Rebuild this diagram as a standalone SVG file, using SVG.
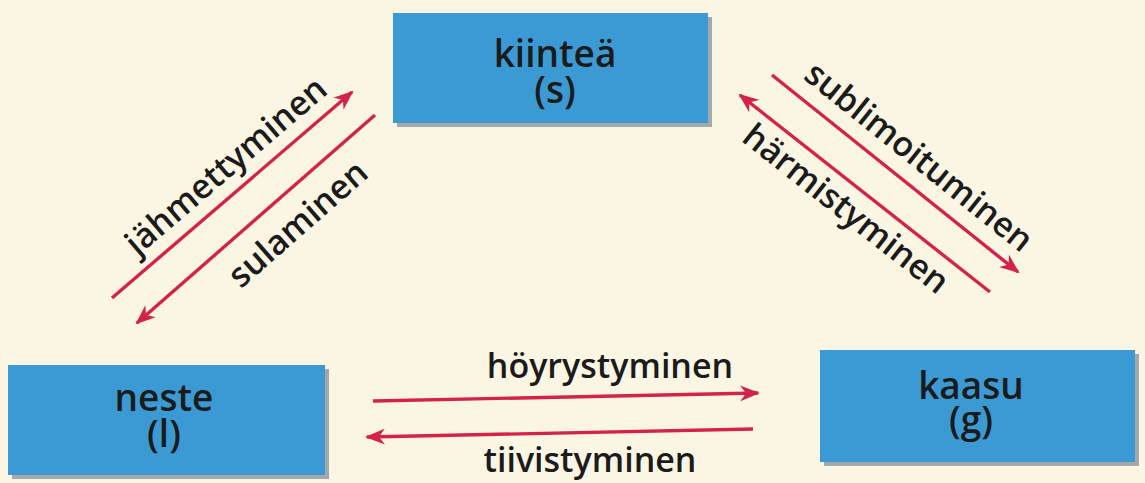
<svg xmlns="http://www.w3.org/2000/svg" width="1145" height="483" viewBox="0 0 1145 483">
<style>
.box{fill:#3b9ad4;}
.shadow{fill:#a3a9ab;}
.nt{font-family:"Open Sans","Liberation Sans",sans-serif;font-size:37px;font-weight:600;fill:#1b1b1b;text-anchor:middle;}
.lbl{font-family:"Open Sans","Liberation Sans",sans-serif;font-size:34px;font-weight:600;fill:#1b1b1b;text-anchor:middle;}
.arr{stroke:#d3234d;stroke-width:3.4;fill:none;marker-end:url(#ah);}
</style>
<defs>
<marker id="ah" viewBox="0 0 20 16" refX="18" refY="8" markerWidth="20" markerHeight="16" markerUnits="userSpaceOnUse" orient="auto">
<path d="M0,0 L20,8 L0,16 L6,8 Z" fill="#d3234d"/>
</marker>
</defs>
<rect width="1145" height="483" fill="#fbf6e4"/>
<g id="kiintea">
<rect class="shadow" x="397" y="17" width="315" height="110"/>
<rect class="box" x="393" y="13" width="315" height="110"/>
<text class="nt" x="555" y="67">kiinteä<tspan x="555" dy="36">(s)</tspan></text>
</g>
<g id="neste">
<rect class="shadow" x="12" y="369" width="317" height="110"/>
<rect class="box" x="8" y="365" width="317" height="110"/>
<text class="nt" x="164" y="411">neste<tspan x="164" dy="36">(l)</tspan></text>
</g>
<g id="kaasu">
<rect class="shadow" x="824" y="354" width="315" height="112"/>
<rect class="box" x="820" y="350" width="315" height="112"/>
<text class="nt" x="971" y="399">kaasu<tspan x="971" dy="34">(g)</tspan></text>
</g>
<g id="connectors">
<line class="arr" x1="112" y1="298" x2="352" y2="92"/>
<line class="arr" x1="375" y1="115" x2="137" y2="323"/>
<line class="arr" x1="772" y1="75" x2="1018" y2="272"/>
<line class="arr" x1="990" y1="292" x2="740" y2="95"/>
<line class="arr" x1="373" y1="401" x2="758" y2="393"/>
<line class="arr" x1="753" y1="429" x2="367" y2="437"/>
<text class="lbl" transform="translate(227,167) rotate(-40.6)" x="0" y="10">jähmettyminen</text>
<text class="lbl" transform="translate(299,225) rotate(-41.2)" x="0" y="10">sulaminen</text>
<text class="lbl" transform="translate(918,158) rotate(38.7)" x="0" y="10">sublimoituminen</text>
<text class="lbl" transform="translate(845,210) rotate(38.2)" x="0" y="10">härmistyminen</text>
<text class="lbl" x="610" y="378">höyrystyminen</text>
<text class="lbl" x="590" y="472">tiivistyminen</text>
</g>
</svg>
